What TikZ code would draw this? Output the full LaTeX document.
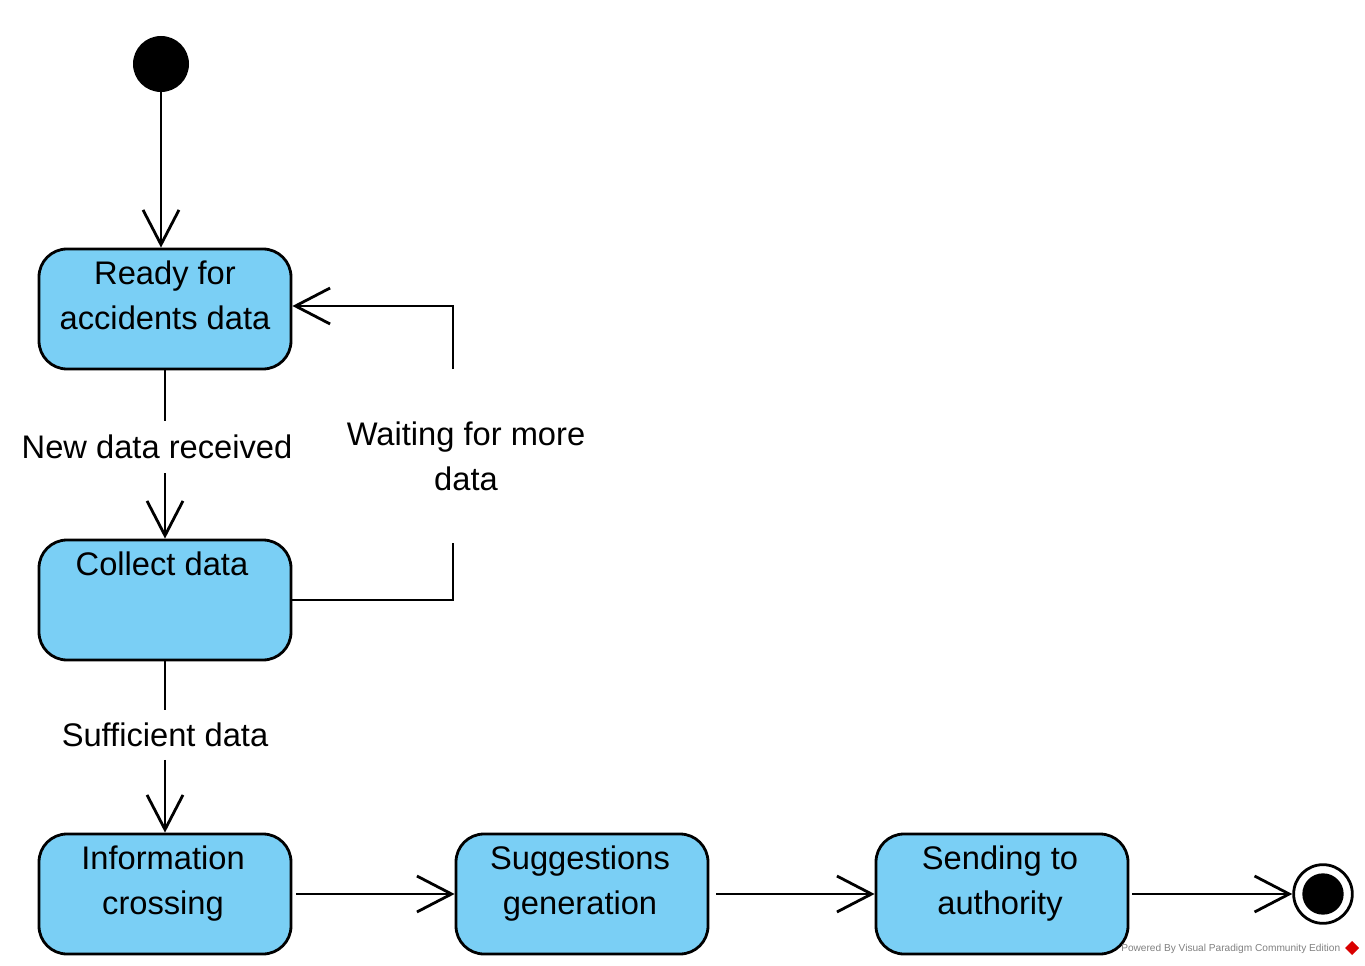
\documentclass[tikz,border=0pt]{standalone}
\usepackage{fontspec}
\setmainfont{Liberation Sans}
\usepackage{tikz}
\usepackage{color}
\usetikzlibrary{arrows.meta}
\definecolor{stateblue}{RGB}{122,207,245}

\begin{document}
\begin{tikzpicture}[x=0.75pt,y=0.75pt,yscale=-1,xscale=1,
  statebox/.style={draw, line width=2.1pt, fill=stateblue, rounded corners=21pt, minimum width=189pt, minimum height=90pt, inner sep=0pt},
  statetext/.style={anchor=north, inner sep=0pt, align=center, font=\fontsize{24.5}{33.75}\selectfont},
  edgetext/.style={inner xsep=0pt, align=center, font=\fontsize{24.5}{33.75}\selectfont},
  plainline/.style={line width=2.1pt},
  flow/.style={line width=2.1pt, -{Straight Barb[length=26pt,width=27pt]}}]
\useasboundingbox (0,0) rectangle (1365,966);

%Shape: Initial node
\node[circle, fill=black, minimum size=42pt, inner sep=0pt] (init) at (161,64) {};
%Shape: Final node
\node[circle, draw, line width=2.1pt, fill=white, minimum size=44pt, inner sep=0pt] (final) at (1323,894) {};
\node[circle, fill=black, minimum size=31pt, inner sep=0pt] (final-in) at (final) {};

%Shape: States
\node[statebox] (ready) at (165,309) {};
\node[statebox] (collect) at (165,600) {};
\node[statebox] (info) at (165,894) {};
\node[statebox] (sugg) at (582,894) {};
\node[statebox] (send) at (1002,894) {};

% Text Node
\node[statetext] (ready-t) at (165,261) {Ready for\\accidents data};
% Text Node
\node[statetext] (collect-t) at (162,552) {Collect data};
% Text Node
\node[statetext] (info-t) at (163,846) {Information\\crossing};
% Text Node
\node[statetext] (sugg-t) at (580,846) {Suggestions\\generation};
% Text Node
\node[statetext] (send-t) at (1000,846) {Sending to\\authority};

% Text Node
\node[edgetext, inner ysep=10.5pt] (newdata) at (157,447) {New data received};
% Text Node
\node[edgetext, inner ysep=39pt] (waiting) at (466,456) {Waiting for more\\data};
% Text Node
\node[edgetext, inner ysep=9.5pt] (suff) at (165,735) {Sufficient data};

\coordinate (loopbot) at (453,600);
\coordinate (looptop) at (453,306);

%Straight Lines
\draw[flow] (init.south) -- (init.south |- ready.north);
\draw[plainline] (ready.south) -- (ready.south |- newdata.north);
\draw[flow] (ready.south |- newdata.south) -- (collect.north);
\draw[plainline] (collect.east) -- (loopbot) -- (loopbot |- waiting.south);
\draw[flow] (looptop |- waiting.north) -- (looptop) -- (ready.east |- looptop);
\draw[plainline] (collect.south) -- (collect.south |- suff.north);
\draw[flow] (collect.south |- suff.south) -- (info.north);
\draw[flow, shorten <=3pt] (info.east) -- (sugg.west);
\draw[flow, shorten <=5pt] (sugg.east) -- (send.west);
\draw[flow, shorten <=2pt] (send.east) -- (final);

% Text Node
\node[anchor=west, inner sep=0pt, text=gray, font=\fontsize{7.6}{9}\selectfont] (vp-mark) at (1121,949) {Powered By Visual Paradigm Community Edition};
\fill[red!85!black] (1352,941) -- (1359,948) -- (1352,955) -- (1345,948) -- cycle;

\end{tikzpicture}
\end{document}
